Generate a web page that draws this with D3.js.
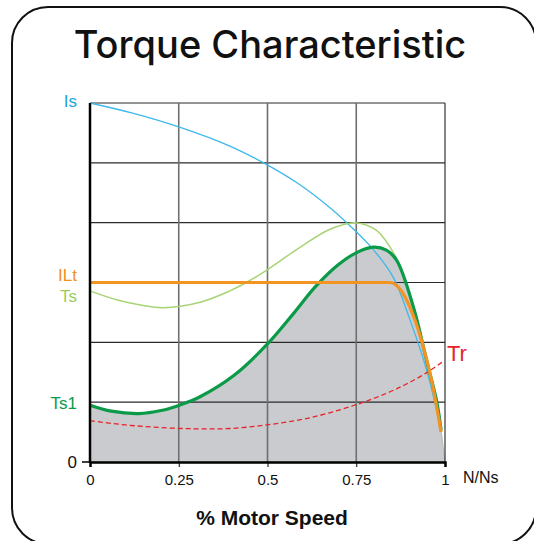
<!DOCTYPE html>
<html>
<head>
<meta charset="utf-8">
<script src="https://cdn.jsdelivr.net/npm/d3@7"></script>
<style>
  html, body { margin: 0; padding: 0; background: #fff; }
  svg { display: block; }
</style>
</head>
<body>
<div id="chart"></div>
<script>
// speed ratio N/Ns vs. value (grid units, 0..6)
const isCurve = [[0, 6], [0.12, 5.83], [0.25, 5.6], [0.394, 5.28], [0.498, 4.97], [0.582, 4.67],
  [0.676, 4.25], [0.732, 3.95], [0.798, 3.55], [0.854, 3.09], [0.9, 2.4], [0.95, 1.5], [0.99, 0.5]];
const tsCurve = [[0, 2.86], [0.083, 2.7], [0.205, 2.58], [0.31, 2.67], [0.394, 2.86],
  [0.44, 3.0], [0.496, 3.2], [0.582, 3.55], [0.676, 3.89], [0.746, 4.0], [0.807, 3.87], [0.864, 3.4]];
const ts1Curve = [[0, 0.95], [0.06, 0.85], [0.139, 0.81], [0.2, 0.86], [0.252, 0.95], [0.31, 1.09],
  [0.404, 1.44], [0.498, 1.96], [0.573, 2.48], [0.635, 2.93], [0.7, 3.3], [0.751, 3.5], [0.798, 3.59],
  [0.835, 3.54], [0.864, 3.37], [0.911, 2.59], [0.948, 1.7], [0.976, 1.03], [0.989, 0.53]];
const iltCurve = [[0, 3], [0.5, 3], [0.845, 3], [0.862, 2.96], [0.878, 2.85], [0.901, 2.59],
  [0.934, 2.03], [0.962, 1.37], [0.989, 0.5]];
const trCurve = [[0, 0.69], [0.1, 0.62], [0.2, 0.575], [0.3, 0.555], [0.394, 0.56], [0.498, 0.62],
  [0.62, 0.74], [0.751, 0.96], [0.84, 1.16], [0.9, 1.33], [0.953, 1.51], [0.997, 1.69]];

const xTicks = [0, 0.25, 0.5, 0.75, 1];
const xTickLabels = ['0', '0.25', '0.5', '0.75', '1'];
const yGrid = [0, 1, 2, 3, 4, 5, 6];

const leftLabels = [
  { text: 'Is', v: 6, color: '#1ba3dd', dy: -2 },
  { text: 'ILt', v: 3, color: '#f0901e', dy: -8 },
  { text: 'Ts', v: 2.86, color: '#9ccc5a', dy: 5 },
  { text: 'Ts1', v: 0.95, color: '#0a9a48', dy: -2 },
  { text: '0', v: 0, color: '#111', dy: 0 }
];

const width = 534, height = 541;

const svg = d3.select('#chart').append('svg')
  .attr('width', width)
  .attr('height', height);

// rounded frame
svg.append('rect')
  .attr('x', 12).attr('y', 7)
  .attr('width', 524).attr('height', 537)
  .attr('rx', 36)
  .attr('fill', 'none')
  .attr('stroke', '#111')
  .attr('stroke-width', 2);

svg.append('text')
  .attr('x', 270).attr('y', 58)
  .attr('text-anchor', 'middle')
  .style('font-family', 'Inter, "Noto Sans", sans-serif')
  .style('font-size', '38px')
  .style('font-weight', 500)
  .style('fill', '#111')
  .text('Torque Characteristic');

const x = d3.scaleLinear().domain([0, 1]).range([90, 445]);
const y = d3.scaleLinear().domain([0, 6]).range([462, 103]);

const smooth = d3.curveCatmullRom.alpha(0.5);
const line = d3.line().x(d => x(d[0])).y(d => y(d[1])).curve(smooth);
const flatLine = d3.line().x(d => x(d[0])).y(d => y(d[1])).curve(d3.curveMonotoneX);

// shaded area under Ts1, closed down to (1, 0)
svg.append('path')
  .attr('d', d3.area().x(d => x(d[0])).y0(y(0)).y1(d => y(d[1])).curve(smooth)(ts1Curve.concat([[1, 0]])))
  .attr('fill', '#c9cbce')
  .attr('stroke', '#a9abae')
  .attr('stroke-width', 0.8);

// grid
svg.append('g').selectAll('line')
  .data(yGrid.slice(1))
  .join('line')
  .attr('x1', x(0)).attr('x2', x(1))
  .attr('y1', d => y(d)).attr('y2', d => y(d))
  .attr('stroke', '#2a2a2a')
  .attr('stroke-width', 1.2);

svg.append('g').selectAll('line')
  .data(xTicks.slice(1, -1))
  .join('line')
  .attr('x1', d => x(d)).attr('x2', d => x(d))
  .attr('y1', y(6)).attr('y2', y(0))
  .attr('stroke', '#6f6f6f')
  .attr('stroke-width', 1.6);

svg.append('line')
  .attr('x1', x(1)).attr('x2', x(1))
  .attr('y1', y(6)).attr('y2', y(0))
  .attr('stroke', '#333')
  .attr('stroke-width', 1.2);

// curves
svg.append('path').attr('d', line(isCurve))
  .attr('fill', 'none').attr('stroke', '#3db8ea').attr('stroke-width', 1.3);

svg.append('path').attr('d', line(trCurve))
  .attr('fill', 'none').attr('stroke', '#e8232a').attr('stroke-width', 1.3)
  .attr('stroke-dasharray', '5,3');

svg.append('path').attr('d', line(tsCurve))
  .attr('fill', 'none').attr('stroke', '#a8d475').attr('stroke-width', 1.5);

svg.append('path').attr('d', line(ts1Curve))
  .attr('fill', 'none').attr('stroke', '#0a9a48').attr('stroke-width', 3.2);

svg.append('path').attr('d', flatLine(iltCurve))
  .attr('fill', 'none').attr('stroke', '#f39322').attr('stroke-width', 3.2);

// axes
const xAxis = svg.append('g')
  .attr('transform', `translate(0,${y(0)})`)
  .call(d3.axisBottom(x).tickValues(xTicks).tickFormat((d, i) => xTickLabels[i]).tickSize(5).tickPadding(7));
xAxis.select('.domain').attr('stroke', '#000').attr('stroke-width', 2.5);
xAxis.selectAll('.tick line').attr('stroke', '#000').attr('stroke-width', 1);
xAxis.selectAll('.tick text')
  .style('font-family', '"Liberation Sans", Arial, sans-serif')
  .style('font-size', '15px')
  .style('fill', '#111');

svg.append('line')
  .attr('x1', x(0)).attr('x2', x(0))
  .attr('y1', y(6)).attr('y2', y(0) + 1)
  .attr('stroke', '#000').attr('stroke-width', 2.5);

svg.append('line')
  .attr('x1', x(0) - 8).attr('x2', x(0))
  .attr('y1', y(0)).attr('y2', y(0))
  .attr('stroke', '#000').attr('stroke-width', 1.5);

// left curve labels
svg.append('g').selectAll('text')
  .data(leftLabels)
  .join('text')
  .attr('x', 77)
  .attr('y', d => y(d.v) + d.dy)
  .attr('dy', '0.36em')
  .attr('text-anchor', 'end')
  .style('font-family', '"Liberation Sans", Arial, sans-serif')
  .style('font-size', '17px')
  .style('fill', d => d.color)
  .text(d => d.text);

const trEnd = trCurve[trCurve.length - 1];
svg.append('text')
  .attr('x', x(trEnd[0]) + 3).attr('y', y(trEnd[1]) - 8)
  .attr('dy', '0.35em')
  .style('font-family', '"Liberation Sans", Arial, sans-serif')
  .style('font-size', '22px')
  .style('fill', '#e8232a')
  .text('Tr');

svg.append('text')
  .attr('x', 463).attr('y', 483)
  .style('font-family', '"Liberation Sans", Arial, sans-serif')
  .style('font-size', '16px')
  .style('fill', '#111')
  .text('N/Ns');

svg.append('text')
  .attr('x', 272).attr('y', 525)
  .attr('text-anchor', 'middle')
  .style('font-family', '"Liberation Sans", Arial, sans-serif')
  .style('font-size', '21px')
  .style('font-weight', 'bold')
  .style('fill', '#111')
  .text('% Motor Speed');
</script>
</body>
</html>
